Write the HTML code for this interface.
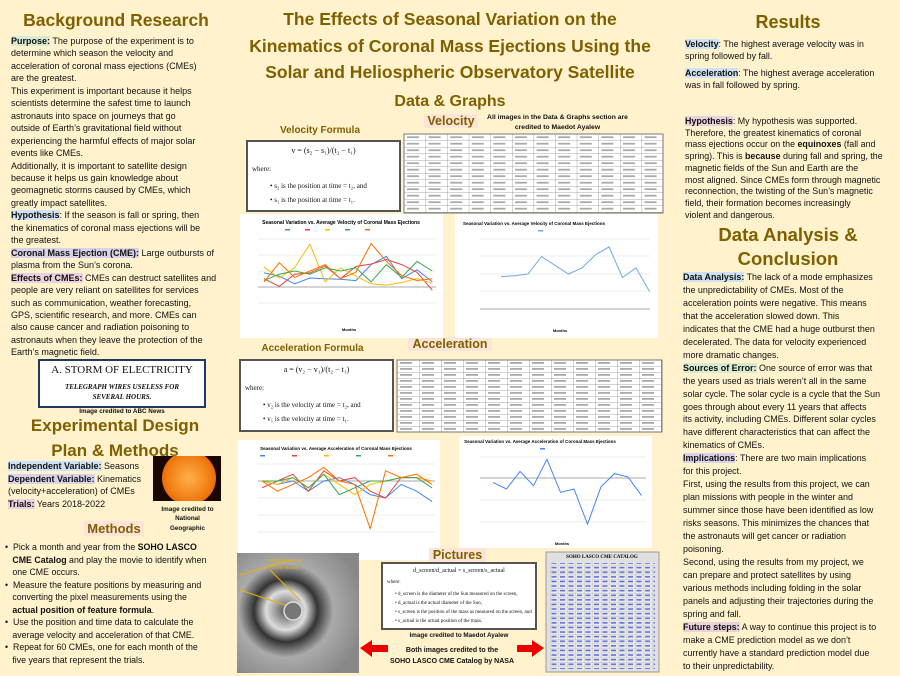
<!DOCTYPE html>
<html><head><meta charset="utf-8"><style>
*{margin:0;padding:0;box-sizing:border-box}
body{width:900px;height:676px;background:#fff2cc;position:relative;overflow:hidden;font-family:"Liberation Sans",sans-serif;color:#111}
.a{position:absolute;white-space:nowrap}
.h{color:#7f6000;font-weight:bold;text-align:center}
.t{font-size:9px;line-height:12.45px}
.r{font-size:8.9px;line-height:11.7px}
.c{font-size:8.95px;line-height:12.95px}
.b{font-weight:bold}
.hg{background:#d9ead3}.hb{background:#cfe2f3}.hp{background:#d9d2e9}.hk{background:#ead1dc}.hr{background:#fce4d6}
.box{position:absolute;background:#fff;border:2px solid #555;font-family:"Liberation Serif",serif;font-size:7px}
</style></head><body>

<div class="a h" style="left:10px;top:10px;width:212px;font-size:17.5px">Background Research</div>
<div class="a t" style="left:11px;top:35px">
<span class="b hg">Purpose:</span> The purpose of the experiment is to<br>determine which season the velocity and<br>acceleration of coronal mass ejections (CMEs)<br>are the greatest.<br>This experiment is important because it helps<br>scientists  determine the safest time to launch<br>astronauts into space on journeys that go<br>outside of Earth’s gravitational field without<br>experiencing the harmful effects of major solar<br>events like CMEs.<br>Additionally, it is important to satellite design<br>because it helps us gain knowledge about<br>geomagnetic storms caused by CMEs, which<br>greatly impact satellites.<br><span class="b hb">Hypothesis</span>: If the season is fall or spring, then<br>the kinematics of coronal mass ejections will be<br>the greatest.<br><span class="b hp">Coronal Mass Ejection (CME):</span> Large outbursts of<br>plasma from the Sun’s corona.<br><span class="b hk">Effects of CMEs:</span> CMEs can destruct satellites and<br>people are very reliant on satellites for services<br>such as communication, weather forecasting,<br>GPS, scientific research, and more. CMEs can<br>also cause cancer and radiation poisoning to<br>astronauts when they leave the protection of the<br>Earth’s magnetic field.</div>

<div class="a" style="left:38px;top:359px;width:168px;height:49px;background:#fff;border:2px solid #1f3864;font-family:'Liberation Serif',serif;text-align:center">
<div style="font-size:11px;margin-top:3px">A. STORM  OF  ELECTRICITY</div>
<div style="font-size:7px;font-style:italic;font-weight:bold;margin-top:7px;line-height:9.5px">TELEGRAPH WIRES USELESS FOR<br>SEVERAL HOURS.</div></div>
<div class="a b" style="left:38px;top:408px;width:168px;text-align:center;font-size:6.3px">Image credited to ABC News</div>

<div class="a h" style="left:5px;top:413px;width:220px;font-size:17px;line-height:25px">Experimental Design<br>Plan &amp; Methods</div>
<div class="a" style="left:8px;top:460px;font-size:9px;line-height:12.5px"><span class="b hb">Independent Variable:</span> Seasons<br><span class="b hp">Dependent Variable:</span> Kinematics<br>(velocity+acceleration) of CMEs<br><span class="b hk">Trials:</span> Years 2018-2022</div>
<div class="a" style="left:153px;top:456px;width:68px;height:45px;background:#1a0800;overflow:hidden"><div style="position:absolute;left:9px;top:-5px;width:54px;height:54px;border-radius:50%;background:radial-gradient(circle at 50% 50%,#ffb04a,#f07a10 60%,#c84000)"></div></div>
<div class="a b" style="left:150px;top:505px;width:75px;text-align:center;font-size:6.3px;line-height:9.3px">Image credited to<br>National<br>Geographic</div>
<div class="a h hr" style="left:84px;top:521px;width:60px;font-size:13px">Methods</div>
<div class="a" style="left:5px;top:541px;font-size:8.8px;line-height:12.5px">•&nbsp; Pick a month and year from the <b>SOHO LASCO</b><br>&nbsp;&nbsp;&nbsp;<b>CME Catalog</b> and play the movie to identify when<br>&nbsp;&nbsp;&nbsp;one CME occurs.<br>•&nbsp; Measure the feature positions by measuring and<br>&nbsp;&nbsp;&nbsp;converting the pixel measurements using the<br>&nbsp;&nbsp;&nbsp;<b>actual position of feature formula</b>.<br>•&nbsp; Use the position and time data to calculate the<br>&nbsp;&nbsp;&nbsp;average velocity and acceleration of that CME.<br>•&nbsp; Repeat for 60 CMEs, one for each month of the<br>&nbsp;&nbsp;&nbsp;five years that represent the trials.</div>

<div class="a h" style="left:225px;top:6px;width:450px;font-size:17.5px;line-height:26.5px">The Effects of Seasonal Variation on the<br>Kinematics of Coronal Mass Ejections Using the<br>Solar and Heliospheric Observatory Satellite</div>
<div class="a h" style="left:380px;top:93px;width:140px;font-size:16px">Data &amp; Graphs</div>
<div class="a h hr" style="left:424px;top:114px;width:54px;font-size:12.5px">Velocity</div>
<div class="a b" style="left:480px;top:113px;width:155px;text-align:center;font-size:6.8px;line-height:9.5px">All images in the Data &amp; Graphs section are<br>credited to Maedot Ayalew</div>
<div class="a h" style="left:250px;top:125px;width:140px;font-size:10px">Velocity Formula</div>
<div class="box" style="left:246px;top:140px;width:155px;height:72px"><div style="text-align:center;margin-top:4px;font-size:8px">v = (s₂ − s₁)/(t₂ − t₁)</div><div style="margin:10px 0 0 4px">where:</div><div style="margin:9px 0 0 22px">• s₂ is the position at time = t₂, and</div><div style="margin:6px 0 0 22px">• s₁ is the position at time = t₁.</div></div>

<div class="a h" style="left:240px;top:343px;width:145px;font-size:10px">Acceleration Formula</div>
<div class="a h hr" style="left:408px;top:337px;width:84px;font-size:12.5px">Acceleration</div>
<div class="box" style="left:239px;top:359px;width:155px;height:73px"><div style="text-align:center;margin-top:4px;font-size:8px">a = (v₂ − v₁)/(t₂ − t₁)</div><div style="margin:10px 0 0 4px">where:</div><div style="margin:9px 0 0 22px">• v₂ is the velocity at time = t₂, and</div><div style="margin:6px 0 0 22px">• v₁ is the velocity at time = t₁.</div></div>

<svg class="a" style="left:0;top:0" width="900" height="676">
<defs>
<pattern id="g" x="404" y="134" width="21.6" height="6.5" patternUnits="userSpaceOnUse"><rect width="21.6" height="6.5" fill="#fff"/><path d="M0 0H21.6M0 0V6.5" stroke="#555" stroke-width=".5"/><rect x="3" y="2.3" width="12" height="1.8" fill="#aaa"/></pattern>
<pattern id="g2" x="397" y="360" width="22" height="6" patternUnits="userSpaceOnUse"><rect width="22" height="6" fill="#fff"/><path d="M0 0H22M0 0V6" stroke="#555" stroke-width=".5"/><rect x="3" y="2" width="12" height="1.8" fill="#aaa"/></pattern>
<pattern id="g3" x="550" y="570" width="8.5" height="4.6" patternUnits="userSpaceOnUse"><rect width="8.5" height="4.6" fill="#e8e8e8"/><path d="M0 0H8.5M0 0V4.6" stroke="#999" stroke-width=".4"/><rect x="1.5" y="1.5" width="5" height="1.5" fill="#5b6cd8"/></pattern>
</defs>
<rect x="404" y="134" width="259" height="79" fill="url(#g)" stroke="#777"/>
<rect x="397" y="360" width="265" height="72" fill="url(#g2)" stroke="#777"/>

<rect x="240" y="214" width="203" height="124" fill="#fff"/>
<text x="341" y="224" font-size="5" font-weight="bold" text-anchor="middle" font-family="Liberation Sans">Seasonal Variation vs. Average Velocity of Coronal Mass Ejections</text>
<g><rect x="285" y="229" width="5" height="1.5" fill="#4285f4"/><rect x="305" y="229" width="5" height="1.5" fill="#ea4335"/><rect x="325" y="229" width="5" height="1.5" fill="#fbbc04"/><rect x="345" y="229" width="5" height="1.5" fill="#34a853"/><rect x="365" y="229" width="5" height="1.5" fill="#ff6d01"/></g>
<g stroke="#ddd" stroke-width=".5"><path d="M258 239H436M258 255H436M258 271H436M258 303H436"/></g><path d="M258 287H436" stroke="#aaa"/>
<g fill="none" stroke-width="1">
<polyline stroke="#4285f4" points="264,272.9 279.3,276.1 294.6,283.8 309.9,278 325.2,278.7 340.5,279.3 355.8,280.6 371.1,264.6 386.4,256.3 401.7,278.7 417,269.7 432.3,281.9"/>
<polyline stroke="#ea4335" points="264,278.7 279.3,286.4 294.6,274.2 309.9,272.9 325.2,265.9 340.5,278.7 355.8,266.5 371.1,264 386.4,259.5 401.7,264.6 417,272.3 432.3,290.2"/>
<polyline stroke="#fbbc04" points="264,267.2 279.3,278 294.6,267.8 309.9,244.1 325.2,281.9 340.5,267.8 355.8,276.1 371.1,283.8 386.4,285.1 401.7,282.5 417,278.7 432.3,283.2"/>
<polyline stroke="#34a853" points="264,280.6 279.3,274.2 294.6,271 309.9,274.2 325.2,267.8 340.5,271 355.8,267.8 371.1,281.9 386.4,264.6 401.7,277.4 417,261.4 432.3,271"/>
<polyline stroke="#ff6d01" points="264,281.9 279.3,262.7 294.6,277.4 309.9,271 325.2,264.6 340.5,278.7 355.8,272.3 371.1,243.5 386.4,261.4 401.7,275.5 417,280.6 432.3,278.7"/>
</g>
<text x="349" y="331" font-size="4" font-weight="bold" text-anchor="middle" font-family="Liberation Sans">Months</text>

<rect x="455" y="214" width="203" height="124" fill="#fff"/>
<text x="534" y="225" font-size="4.5" font-weight="bold" text-anchor="middle" font-family="Liberation Sans">Seasonal Variation vs. Average Velocity of Coronal Mass Ejections</text>
<rect x="538" y="230" width="5" height="1.5" fill="#6fa8f5"/>
<g stroke="#ddd" stroke-width=".5"><path d="M480 239H650M480 256H650M480 274H650M480 291H650"/></g><path d="M480 309H650" stroke="#aaa"/>
<polyline fill="none" stroke="#6fa8f5" stroke-width="1" points="501,276.6 514.5,275.8 528,274 541.5,256.5 555,265.3 568.5,274 582,267.9 595.5,254.8 609,246.9 622.5,277.5 636,267.9 649.5,291.5"/>
<text x="560" y="332" font-size="4" font-weight="bold" text-anchor="middle" font-family="Liberation Sans">Months</text>

<rect x="238" y="440" width="202" height="120" fill="#fff"/>
<text x="336" y="450" font-size="4.5" font-weight="bold" text-anchor="middle" font-family="Liberation Sans">Seasonal Variation vs. Average Acceleration of Coronal Mass Ejections</text>
<g><rect x="260" y="455" width="5" height="1.5" fill="#4285f4"/><rect x="292" y="455" width="5" height="1.5" fill="#ea4335"/><rect x="324" y="455" width="5" height="1.5" fill="#fbbc04"/><rect x="356" y="455" width="5" height="1.5" fill="#34a853"/><rect x="388" y="455" width="5" height="1.5" fill="#ff6d01"/></g>
<g stroke="#ddd" stroke-width=".5"><path d="M258 464H435M258 498H435M258 515H435M258 532H435"/></g><path d="M258 481H435" stroke="#aaa"/>
<g fill="none" stroke-width="1">
<polyline stroke="#4285f4" points="262,481 277.5,484.4 292.9,481 308.4,491.2 323.8,481 339.3,477.6 354.7,484.4 370.2,494.6 385.6,498 401.1,484.4 416.5,491.2 432,501.4"/>
<polyline stroke="#ea4335" points="262,487.8 277.5,481 292.9,474.2 308.4,491.2 323.8,470.8 339.3,481 354.7,477.6 370.2,491.2 385.6,498 401.1,477.6 416.5,477.6 432,481"/>
<polyline stroke="#fbbc04" points="262,481 277.5,484.4 292.9,477.6 308.4,487.8 323.8,474.2 339.3,484.4 354.7,494.6 370.2,484.4 385.6,481 401.1,477.6 416.5,477.6 432,481"/>
<polyline stroke="#34a853" points="262,481 277.5,481 292.9,477.6 308.4,487.8 323.8,474.2 339.3,494.6 354.7,487.8 370.2,481 385.6,481 401.1,477.6 416.5,477.6 432,487.8"/>
<polyline stroke="#ff6d01" points="262,481 277.5,491.2 292.9,484.4 308.4,477.6 323.8,467.4 339.3,481 354.7,484.4 370.2,528.6 385.6,470.8 401.1,477.6 416.5,474.2 432,484.4"/>
</g>

<rect x="459" y="436" width="193" height="112" fill="#fff"/>
<text x="540" y="443" font-size="4.5" font-weight="bold" text-anchor="middle" font-family="Liberation Sans">Seasonal Variation vs. Average Acceleration of Coronal Mass Ejections</text>
<rect x="540" y="448" width="5" height="1.5" fill="#4285f4"/>
<g stroke="#ddd" stroke-width=".5"><path d="M480 457H646M480 500H646M480 522H646"/></g><path d="M480 478H646" stroke="#aaa"/>
<polyline fill="none" stroke="#4285f4" stroke-width="1" points="493,482.4 506.5,489 520,471.4 533.5,485.7 547,459.3 560.5,492.3 574,489 587.5,524.2 601,486.8 614.5,473.6 628,476.9 641.5,495.6"/>
<text x="562" y="545" font-size="4" font-weight="bold" text-anchor="middle" font-family="Liberation Sans">Months</text>

<defs><radialGradient id="cm" cx="40%" cy="48%" r="65%"><stop offset="0" stop-color="#555"/><stop offset=".25" stop-color="#ddd"/><stop offset=".4" stop-color="#333"/><stop offset=".6" stop-color="#aaa"/><stop offset="1" stop-color="#888"/></radialGradient></defs>
<rect x="237" y="553" width="122" height="120" fill="url(#cm)"/>
<path d="M240 575L290 560M240 590L300 610M270 570L300 600" stroke="#e8b400" stroke-width="1" fill="none"/>
<circle cx="293" cy="611" r="9" fill="#777" stroke="#ddd" stroke-width="1.5"/>
<text x="268" y="562" font-size="4.5" fill="#e8b400" font-family="Liberation Sans">Outermost extent</text>
<text x="272" y="569" font-size="4.5" fill="#e8b400" font-family="Liberation Sans">of the feature</text>
<rect x="546" y="552" width="113" height="120" fill="#e0e0e0" stroke="#999"/>
<text x="602" y="558" font-size="5" font-weight="bold" text-anchor="middle" font-family="Liberation Serif">SOHO LASCO CME CATALOG</text>
<rect x="550" y="563" width="105" height="106" fill="url(#g3)"/>
<path d="M360 648L372 640V645H388V652H372V657Z" fill="#e00"/>
<path d="M544 648L532 640V645H517V652H532V657Z" fill="#e00"/>
</svg>

<div class="a h hr" style="left:429px;top:548px;width:57px;font-size:12.5px">Pictures</div>
<div class="box" style="left:381px;top:562px;width:156px;height:68px;font-size:5px"><div style="text-align:center;margin-top:4px;font-size:6px">d_screen/d_actual = s_screen/s_actual</div><div style="margin:6px 0 0 4px">where:</div><div style="margin:5px 0 0 12px;line-height:9px">• d_screen is the diameter of the Sun measured on the screen,<br>• d_actual is the actual diameter of the Sun,<br>• s_screen is the position of the mass as measured on the screen, and<br>• s_actual is the actual position of the mass.</div></div>
<div class="a b" style="left:381px;top:632px;width:156px;text-align:center;font-size:6.3px">Image credited to Maedot Ayalew</div>
<div class="a b" style="left:387px;top:646px;width:130px;text-align:center;font-size:7px;line-height:10.5px">Both images credited to the<br>SOHO LASCO CME Catalog by NASA</div>

<div class="a h" style="left:683px;top:12px;width:210px;font-size:18px">Results</div>
<div class="a r" style="left:685px;top:39px"><span class="b hb">Velocity</span>: The highest average velocity was in<br>spring followed by fall.</div>
<div class="a r" style="left:685px;top:68px"><span class="b hb">Acceleration</span>: The highest average acceleration<br>was in fall followed by spring.</div>
<div class="a r" style="left:685px;top:116px"><span class="b hk">Hypothesis</span>: My hypothesis was supported.<br>Therefore, the greatest kinematics of coronal<br>mass ejections occur on the <b>equinoxes</b> (fall and<br>spring). This is <b>because</b> during fall and spring, the<br>magnetic fields of the Sun and Earth are the<br>most aligned. Since CMEs form through magnetic<br>reconnection, the twisting of the Sun’s magnetic<br>field, their formation becomes increasingly<br>violent and dangerous.</div>
<div class="a h" style="left:683px;top:223px;width:210px;font-size:18.5px;line-height:24px">Data Analysis &amp;<br>Conclusion</div>
<div class="a c" style="left:683px;top:271px"><span class="b hb">Data Analysis:</span> The lack of a mode emphasizes<br>the unpredictability of CMEs. Most of the<br>acceleration points were negative. This means<br>that the acceleration slowed down. This<br>indicates that  the CME had a huge outburst then<br>decelerated. The data for velocity experienced<br>more dramatic changes.<br><span class="b hg">Sources of Error:</span> One source of error was that<br>the years used as trials weren’t all in the same<br>solar cycle. The solar cycle is a cycle that the Sun<br>goes through about every 11 years that affects<br>its activity, including CMEs. Different solar cycles<br>have different characteristics that can affect the<br>kinematics of CMEs.<br><span class="b hp">Implications</span>: There are two main implications<br>for this project.<br>First, using the results from this project, we can<br>plan missions with people in the winter and<br>summer since those have been identified as low<br>risks seasons. This minimizes the chances that<br>the astronauts will get cancer or radiation<br>poisoning.<br>Second, using the results from my project, we<br>can prepare and protect satellites by using<br>various methods including folding in the solar<br>panels and adjusting their trajectories during the<br>spring and fall.<br><span class="b hk">Future steps:</span> A way to continue this project is to<br>make a CME prediction model as we don’t<br>currently have a standard prediction model due<br>to their unpredictability.</div>
</body></html>
